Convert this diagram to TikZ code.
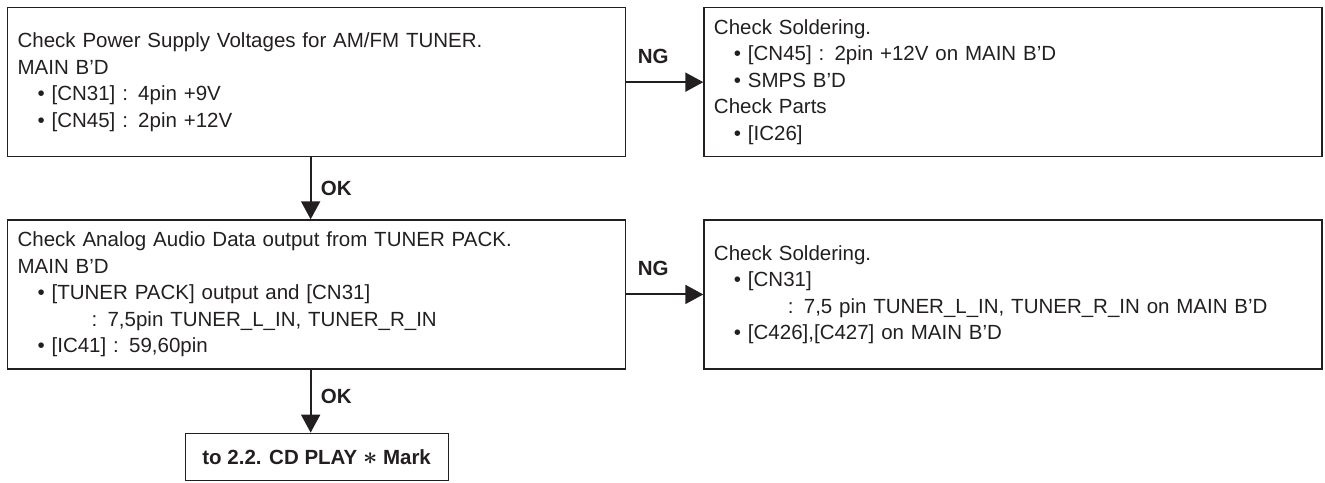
\documentclass[tikz,border=0pt]{standalone}
\usepackage{fontspec}
\setmainfont{Liberation Sans}
\usepackage{tikz}
\usetikzlibrary{positioning,arrows.meta}
\definecolor{inkgray}{RGB}{35,31,32}
\newcommand{\bul}{\hspace*{20pt}\textbullet\ }
\newcommand{\contd}{\hspace*{74pt}}
\newcommand{\bigast}{{\boldmath\fontsize{25}{25}\selectfont$\ast$}}
\tikzset{
  chk/.style   ={rectangle, draw=inkgray, line width=1.3pt, text=inkgray,
                 minimum height=149pt, text width=598pt, inner xsep=10pt, align=left,
                 font=\fontsize{20.5}{26.5}\selectfont},
  goto/.style  ={rectangle, draw=inkgray, line width=1.3pt, text=inkgray,
                 minimum width=263pt, minimum height=47pt, font=\bfseries\fontsize{20.5}{24}\selectfont},
  flow/.style  ={-{Triangle[length=18pt,width=19pt]}, line width=2pt, draw=inkgray},
  tag/.style   ={font=\bfseries\fontsize{20.5}{24}\selectfont, text=inkgray},
}
\begin{document}
\begin{tikzpicture}
\useasboundingbox (0,0) rectangle (1325pt,-482pt);
\node[chk, anchor=north west] (pwr) at (7pt,-7pt)
  {Check Power Supply Voltages for AM/FM TUNER.\\
   MAIN B'D\\
   \bul[CN31] : 4pin +9V\\
   \bul[CN45] : 2pin +12V};
\node[chk, right=77pt of pwr] (pwrng)
  {Check Soldering.\\
   \bul[CN45] : 2pin +12V on MAIN B'D\\
   \bul SMPS B'D\\
   Check Parts\\
   \bul[IC26]};
\node[chk, below=62pt of pwr] (aud)
  {Check Analog Audio Data output from TUNER PACK.\\
   MAIN B'D\\
   \bul[TUNER PACK] output and [CN31]\\
   \contd: 7,5pin TUNER\_L\_IN, TUNER\_R\_IN\\
   \bul[IC41] : 59,60pin};
\node[chk, right=77pt of aud] (audng)
  {Check Soldering.\\
   \bul[CN31]\\
   \contd: 7,5 pin TUNER\_L\_IN, TUNER\_R\_IN on MAIN B'D\\
   \bul[C426],[C427] on MAIN B'D};
\node[goto, below=63pt of aud] (cdplay) {to 2.2. CD PLAY \bigast{} Mark};
\draw[flow] (pwr) -- node[tag, pos=0.35, above=14pt] {NG} (pwrng);
\draw[flow] (aud) -- node[tag, pos=0.35, above=14pt] {NG} (audng);
\draw[flow] ([xshift=-6pt]pwr.south) -- node[tag, midway, right=6pt] {OK} ([xshift=-6pt]aud.north);
\draw[flow] ([xshift=-6pt]aud.south) -- node[tag, midway, right=6pt, yshift=5pt] {OK} ([xshift=-6pt]cdplay.north);
\end{tikzpicture}
\end{document}
